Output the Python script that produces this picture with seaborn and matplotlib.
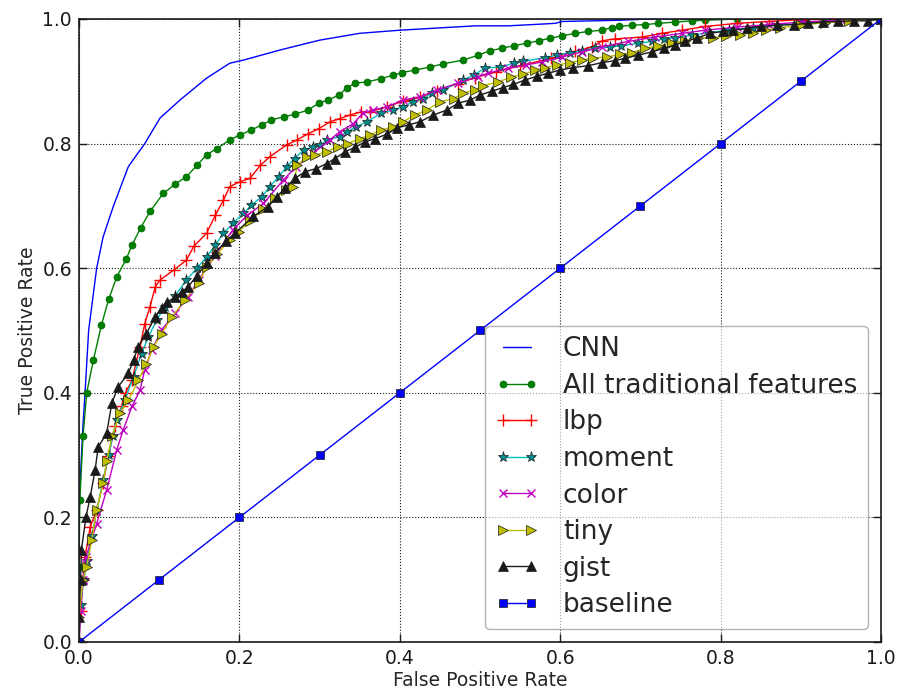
import matplotlib
matplotlib.use("Agg")
import matplotlib.pyplot as plt
from matplotlib.ticker import FormatStrFormatter
import seaborn as sns

sns.set_theme(style="ticks")
plt.rcParams['font.family'] = ['DejaVu Sans']

# ROC curves (false positive rate, true positive rate)
cnn_fpr = [0, 0.0, 0.002, 0.005, 0.0075, 0.012, 0.018, 0.022, 0.03, 0.043, 0.0615, 0.082,
           0.101, 0.126, 0.159, 0.188, 0.205, 0.25, 0.30, 0.35, 0.40, 0.494, 0.535, 0.594,
           0.602, 0.675, 0.709, 1.0]
cnn_tpr = [0, 0.2, 0.27, 0.35, 0.40, 0.50, 0.56, 0.60, 0.65, 0.70, 0.763, 0.80,
           0.841, 0.870, 0.905, 0.929, 0.934, 0.950, 0.966, 0.977, 0.982, 0.989, 0.989, 0.993,
           0.996, 0.998, 1.0, 1.0]

all_fpr = [0, 0.0, 0.001, 0.005, 0.0096, 0.018, 0.028, 0.037, 0.047, 0.059, 0.066, 0.077,
           0.0885, 0.105, 0.12, 0.134, 0.147, 0.159, 0.172, 0.188, 0.201, 0.215, 0.228, 0.240,
           0.255, 0.269, 0.286, 0.299, 0.311, 0.324, 0.334, 0.344, 0.359, 0.376, 0.392, 0.403,
           0.419, 0.438, 0.454, 0.479, 0.498, 0.512, 0.527, 0.542, 0.558, 0.573, 0.587, 0.602,
           0.619, 0.635, 0.652, 0.664, 0.673, 0.689, 0.706, 0.722, 0.743, 0.764, 0.781, 0.82,
           0.9, 1.0]
all_tpr = [0, 0.12, 0.228, 0.33, 0.40, 0.453, 0.509, 0.55, 0.586, 0.615, 0.637, 0.665,
           0.691, 0.720, 0.735, 0.747, 0.765, 0.782, 0.792, 0.806, 0.814, 0.822, 0.830, 0.838,
           0.843, 0.847, 0.854, 0.865, 0.870, 0.878, 0.889, 0.897, 0.899, 0.904, 0.910, 0.914,
           0.918, 0.923, 0.928, 0.934, 0.942, 0.949, 0.953, 0.957, 0.961, 0.965, 0.969, 0.973,
           0.977, 0.980, 0.982, 0.986, 0.988, 0.990, 0.991, 0.993, 0.995, 0.997, 0.998, 1.0,
           1.0, 1.0]

lbp_fpr = [0, 0.002, 0.005, 0.0075, 0.014, 0.022, 0.030, 0.0365, 0.045, 0.053, 0.058, 0.066,
           0.076, 0.082, 0.0885, 0.095, 0.101, 0.118, 0.134, 0.143, 0.159, 0.17, 0.18, 0.188,
           0.201, 0.213, 0.226, 0.238, 0.259, 0.272, 0.286, 0.299, 0.313, 0.325, 0.338, 0.352,
           0.363, 0.384, 0.404, 0.425, 0.447, 0.472, 0.494, 0.52, 0.55, 0.589, 0.619, 0.640,
           0.652, 0.668, 0.702, 0.727, 0.752, 0.781, 0.82, 0.86, 0.9, 1.0]
lbp_tpr = [0, 0.05, 0.10, 0.137, 0.185, 0.212, 0.255, 0.298, 0.346, 0.378, 0.40, 0.42,
           0.474, 0.511, 0.538, 0.570, 0.581, 0.597, 0.613, 0.635, 0.656, 0.685, 0.709, 0.731,
           0.739, 0.744, 0.765, 0.779, 0.798, 0.806, 0.816, 0.824, 0.835, 0.840, 0.846, 0.851,
           0.851, 0.859, 0.868, 0.874, 0.885, 0.896, 0.906, 0.915, 0.925, 0.937, 0.948, 0.955,
           0.965, 0.968, 0.971, 0.977, 0.982, 0.988, 0.993, 0.996, 0.999, 1.0]

moment_fpr = [0, 0.002, 0.006, 0.01, 0.016, 0.022, 0.03, 0.037, 0.042, 0.047, 0.057, 0.068,
              0.078, 0.0865, 0.097, 0.107, 0.12, 0.134, 0.147, 0.159, 0.17, 0.18, 0.192, 0.205,
              0.215, 0.228, 0.238, 0.249, 0.259, 0.269, 0.280, 0.292, 0.301, 0.309, 0.325, 0.334,
              0.346, 0.359, 0.377, 0.392, 0.404, 0.417, 0.429, 0.440, 0.454, 0.479, 0.492, 0.506,
              0.525, 0.542, 0.554, 0.581, 0.596, 0.612, 0.627, 0.643, 0.662, 0.676, 0.697, 0.714,
              0.730, 0.743, 0.764, 0.785, 0.81, 0.84, 0.87, 0.9, 0.93, 0.96, 1.0]
moment_tpr = [0, 0.06, 0.10, 0.13, 0.17, 0.21, 0.26, 0.30, 0.33, 0.356, 0.388, 0.426,
              0.463, 0.49, 0.517, 0.538, 0.556, 0.581, 0.60, 0.618, 0.637, 0.656, 0.672, 0.688,
              0.701, 0.715, 0.731, 0.747, 0.763, 0.776, 0.790, 0.795, 0.797, 0.806, 0.811, 0.819,
              0.827, 0.835, 0.849, 0.854, 0.859, 0.867, 0.872, 0.881, 0.886, 0.902, 0.910, 0.921,
              0.923, 0.929, 0.932, 0.938, 0.942, 0.946, 0.949, 0.953, 0.955, 0.957, 0.961, 0.964,
              0.968, 0.970, 0.974, 0.978, 0.982, 0.986, 0.990, 0.993, 0.996, 0.998, 1.0]

color_fpr = [0, 0.002, 0.005, 0.0087, 0.022, 0.0345, 0.047, 0.055, 0.066, 0.076, 0.082, 0.091,
             0.103, 0.12, 0.136, 0.149, 0.17, 0.192, 0.21, 0.230, 0.255, 0.271, 0.292, 0.313,
             0.325, 0.342, 0.354, 0.367, 0.384, 0.404, 0.425, 0.447, 0.472, 0.497, 0.510, 0.535,
             0.557, 0.577, 0.602, 0.627, 0.652, 0.685, 0.718, 0.752, 0.781, 0.82, 0.86, 0.9,
             0.95, 1.0]
color_tpr = [0, 0.05, 0.10, 0.137, 0.19, 0.244, 0.308, 0.34, 0.378, 0.404, 0.437, 0.469,
             0.501, 0.528, 0.554, 0.581, 0.62, 0.662, 0.685, 0.704, 0.742, 0.763, 0.785, 0.806,
             0.819, 0.832, 0.849, 0.854, 0.859, 0.870, 0.875, 0.886, 0.897, 0.907, 0.913, 0.921,
             0.926, 0.931, 0.939, 0.947, 0.955, 0.964, 0.971, 0.977, 0.982, 0.987, 0.991, 0.995,
             0.998, 1.0]

tiny_fpr = [0, 0.0, 0.005, 0.0096, 0.016, 0.022, 0.03, 0.0345, 0.041, 0.051, 0.0615, 0.074,
            0.084, 0.093, 0.103, 0.116, 0.132, 0.149, 0.159, 0.172, 0.188, 0.199, 0.213, 0.23,
            0.245, 0.258, 0.267, 0.272, 0.284, 0.294, 0.309, 0.323, 0.335, 0.350, 0.363, 0.377,
            0.392, 0.404, 0.419, 0.434, 0.450, 0.467, 0.479, 0.494, 0.504, 0.523, 0.539, 0.554,
            0.569, 0.581, 0.596, 0.612, 0.627, 0.641, 0.658, 0.675, 0.689, 0.706, 0.722, 0.739,
            0.756, 0.772, 0.79, 0.807, 0.824, 0.841, 0.857, 0.874, 0.9, 0.93, 0.96, 1.0]
tiny_tpr = [0, 0.04, 0.10, 0.121, 0.164, 0.212, 0.255, 0.29, 0.33, 0.367, 0.388, 0.42,
            0.447, 0.474, 0.495, 0.522, 0.549, 0.576, 0.602, 0.622, 0.646, 0.658, 0.676, 0.695,
            0.712, 0.725, 0.731, 0.765, 0.779, 0.781, 0.787, 0.795, 0.800, 0.808, 0.814, 0.822,
            0.827, 0.835, 0.846, 0.854, 0.867, 0.872, 0.881, 0.886, 0.893, 0.899, 0.907, 0.911,
            0.918, 0.922, 0.926, 0.930, 0.934, 0.937, 0.939, 0.943, 0.946, 0.953, 0.957, 0.961,
            0.965, 0.969, 0.970, 0.972, 0.975, 0.978, 0.982, 0.986, 0.990, 0.994, 0.997, 1.0]

gist_fpr = [0, 0.0, 0.002, 0.003, 0.0087, 0.014, 0.02, 0.024, 0.0345, 0.041, 0.049, 0.0615,
            0.068, 0.074, 0.084, 0.095, 0.103, 0.11, 0.12, 0.128, 0.136, 0.147, 0.159, 0.17,
            0.183, 0.1945, 0.217, 0.236, 0.2465, 0.257, 0.269, 0.282, 0.296, 0.309, 0.319, 0.332,
            0.344, 0.357, 0.369, 0.384, 0.396, 0.411, 0.425, 0.442, 0.459, 0.473, 0.488, 0.5,
            0.5145, 0.529, 0.5415, 0.556, 0.5707, 0.585, 0.5998, 0.616, 0.635, 0.652, 0.668,
            0.681, 0.697, 0.714, 0.729, 0.743, 0.756, 0.770, 0.787, 0.803, 0.816, 0.833, 0.851,
            0.870, 0.891, 0.909, 0.928, 0.947, 0.966, 0.984, 1.0]
gist_tpr = [0, 0.04, 0.10, 0.148, 0.201, 0.233, 0.276, 0.313, 0.335, 0.384, 0.41, 0.431,
            0.453, 0.474, 0.495, 0.522, 0.536, 0.545, 0.554, 0.562, 0.570, 0.588, 0.608, 0.625,
            0.643, 0.656, 0.683, 0.699, 0.715, 0.728, 0.744, 0.755, 0.760, 0.768, 0.776, 0.787,
            0.794, 0.803, 0.808, 0.815, 0.825, 0.830, 0.835, 0.846, 0.854, 0.865, 0.870, 0.878,
            0.884, 0.890, 0.895, 0.902, 0.908, 0.913, 0.918, 0.922, 0.925, 0.930, 0.933,
            0.937, 0.942, 0.947, 0.953, 0.958, 0.964, 0.969, 0.977, 0.980, 0.982, 0.985, 0.988,
            0.990, 0.991, 0.993, 0.995, 0.996, 0.997, 0.997, 1.0]

baseline_fpr = [0.0, 0.1, 0.2, 0.3, 0.4, 0.5, 0.6, 0.7, 0.8, 0.9, 1.0]
baseline_tpr = [0.0, 0.1, 0.2, 0.3, 0.4, 0.5, 0.6, 0.7, 0.8, 0.9, 1.0]

blue = (0, 0, 1)
green = (0, 0.5, 0)
red = (1, 0, 0)
cyan = (0, 0.75, 0.75)
magenta = (0.75, 0, 0.75)
yellow = (0.75, 0.75, 0)

curves = [
    ("CNN", cnn_fpr, cnn_tpr, dict(color=blue)),
    ("All traditional features", all_fpr, all_tpr,
     dict(color=green, marker="o", markersize=5, markeredgecolor=(0, 0.4, 0),
          markeredgewidth=0.5)),
    ("lbp", lbp_fpr, lbp_tpr,
     dict(color=red, marker="+", markersize=8, markeredgecolor=red, markeredgewidth=1)),
    ("moment", moment_fpr, moment_tpr,
     dict(color=cyan, marker="*", markersize=8, markeredgecolor="k", markeredgewidth=0.5,
          markerfacecolor=(0, 0.55, 0.55))),
    ("color", color_fpr, color_tpr,
     dict(color=magenta, marker="x", markersize=6, markeredgecolor=magenta, markeredgewidth=1)),
    ("tiny", tiny_fpr, tiny_tpr,
     dict(color=yellow, marker=">", markersize=7, markeredgecolor="k", markeredgewidth=0.5)),
    ("gist", gist_fpr, gist_tpr,
     dict(color="k", marker="^", markersize=7, markeredgecolor="k", markeredgewidth=0.5)),
    ("baseline", baseline_fpr, baseline_tpr,
     dict(color=blue, marker="s", markersize=6, markeredgecolor="k", markeredgewidth=0.5)),
]

fig, ax = plt.subplots(figsize=(9.02, 6.93), dpi=100)
fig.subplots_adjust(left=0.0876, right=0.9767, bottom=0.0736, top=0.9726)

for name, fpr, tpr, kw in curves:
    sns.lineplot(x=fpr, y=tpr, ax=ax, sort=False, estimator=None,
                 linewidth=1.0, label=name, **kw)

ax.set_xlim(0, 1)
ax.set_ylim(0, 1)
ticks = [0.0, 0.2, 0.4, 0.6, 0.8, 1.0]
ax.set_xticks(ticks)
ax.set_yticks(ticks)
ax.xaxis.set_major_formatter(FormatStrFormatter('%.1f'))
ax.yaxis.set_major_formatter(FormatStrFormatter('%.1f'))
ax.tick_params(direction="in", top=True, right=True, length=6, width=1,
               labelsize=13.5, colors="k", pad=5)
ax.grid(True, linestyle=":", color="k", linewidth=0.8)
for sp in ax.spines.values():
    sp.set_color("k")
    sp.set_linewidth(1.2)
ax.set_xlabel("False Positive Rate", fontsize=13.5, labelpad=2)
ax.set_ylabel("True Positive Rate", fontsize=13.5, labelpad=4)

leg = ax.legend(loc="lower right", fontsize=19, numpoints=2, fancybox=True,
                framealpha=0.6, edgecolor="0.5", labelspacing=0.4, handlelength=1.65,
                handletextpad=0.9, borderpad=0.4, borderaxespad=0.5)
leg.get_frame().set_linewidth(1.0)

fig.savefig("out.png", dpi=100)
